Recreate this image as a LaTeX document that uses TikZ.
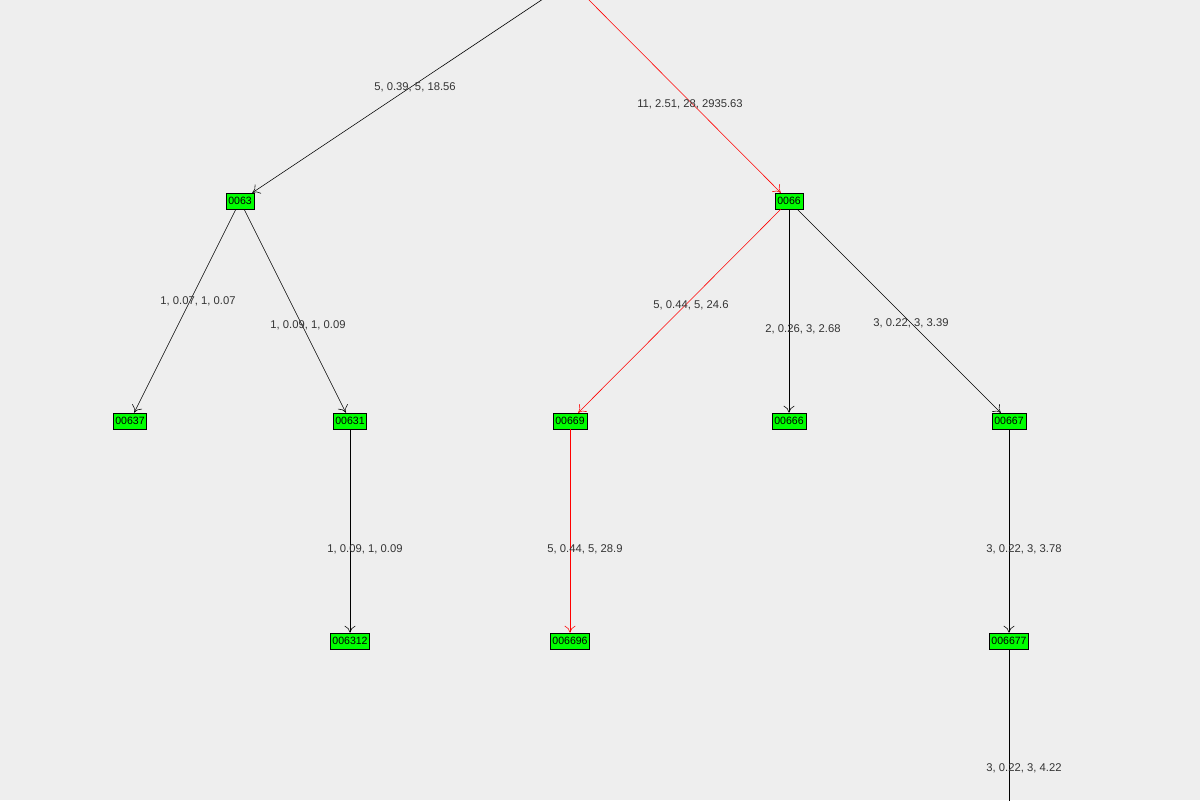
\documentclass[tikz,border=0pt]{standalone}
\usepackage{fontspec}
\setmainfont{Liberation Sans}
\usetikzlibrary{arrows.meta}
\definecolor{bg}{HTML}{EEEEEE}
\definecolor{nodegreen}{HTML}{00FF00}
\definecolor{labelgray}{HTML}{333333}

\begin{document}
\begin{tikzpicture}[x=0.025cm,y=-0.025cm]
\fill[bg] (0,0) rectangle (1200,800);
\useasboundingbox (0,0) rectangle (1200,800);
\clip (0,0) rectangle (1200,800);
\begin{scope}[every node/.style={draw=black,fill=nodegreen,inner sep=1.5pt,
              minimum height=16*0.025cm,font=\fontsize{7.5}{8}\selectfont}]
    \node (n0063) at (240,201) {0063};
    \node (n0066) at (789,201) {0066};
    \node (n00637) at (130,421) {00637};
    \node (n00631) at (350,421) {00631};
    \node (n00669) at (570,421) {00669};
    \node (n00666) at (789,421) {00666};
    \node (n00667) at (1009,421) {00667};
    \node (n006312) at (350,641) {006312};
    \node (n006696) at (570,641) {006696};
    \node (n006677) at (1009,641) {006677};
\end{scope}
\coordinate (root) at (570,-19);
\coordinate (below) at (1009,861);

\begin{scope}[>={To[length=7*0.025cm,width=11*0.025cm]},
              every node/.style={text=labelgray,font=\fontsize{8}{9}\selectfont}]
    \draw [->] (root) -- (n0063);
    \draw [->,red] (root) -- (n0066);
    \draw [->] (n0063) -- (n00637);
    \draw [->] (n0063) -- (n00631);
    \draw [->,red] (n0066) -- (n00669);
    \draw [->] (n0066) -- (n00666);
    \draw [->] (n0066) -- (n00667);
    \draw [->] (n00631) -- (n006312);
    \draw [->,red] (n00669) -- (n006696);
    \draw [->] (n00667) -- (n006677);
    \draw (n006677) -- (below);
    \node at (415,87) {5, 0.39, 5, 18.56};
    \node at (690,104) {11, 2.51, 28, 2935.63};
    \node at (198,301) {1, 0.07, 1, 0.07};
    \node at (308,325) {1, 0.09, 1, 0.09};
    \node at (691,305) {5, 0.44, 5, 24.6};
    \node at (803,329) {2, 0.26, 3, 2.68};
    \node at (911,323) {3, 0.22, 3, 3.39};
    \node at (365,549) {1, 0.09, 1, 0.09};
    \node at (585,549) {5, 0.44, 5, 28.9};
    \node at (1024,549) {3, 0.22, 3, 3.78};
    \node at (1024,768) {3, 0.22, 3, 4.22};
\end{scope}
\end{tikzpicture}
\end{document}
